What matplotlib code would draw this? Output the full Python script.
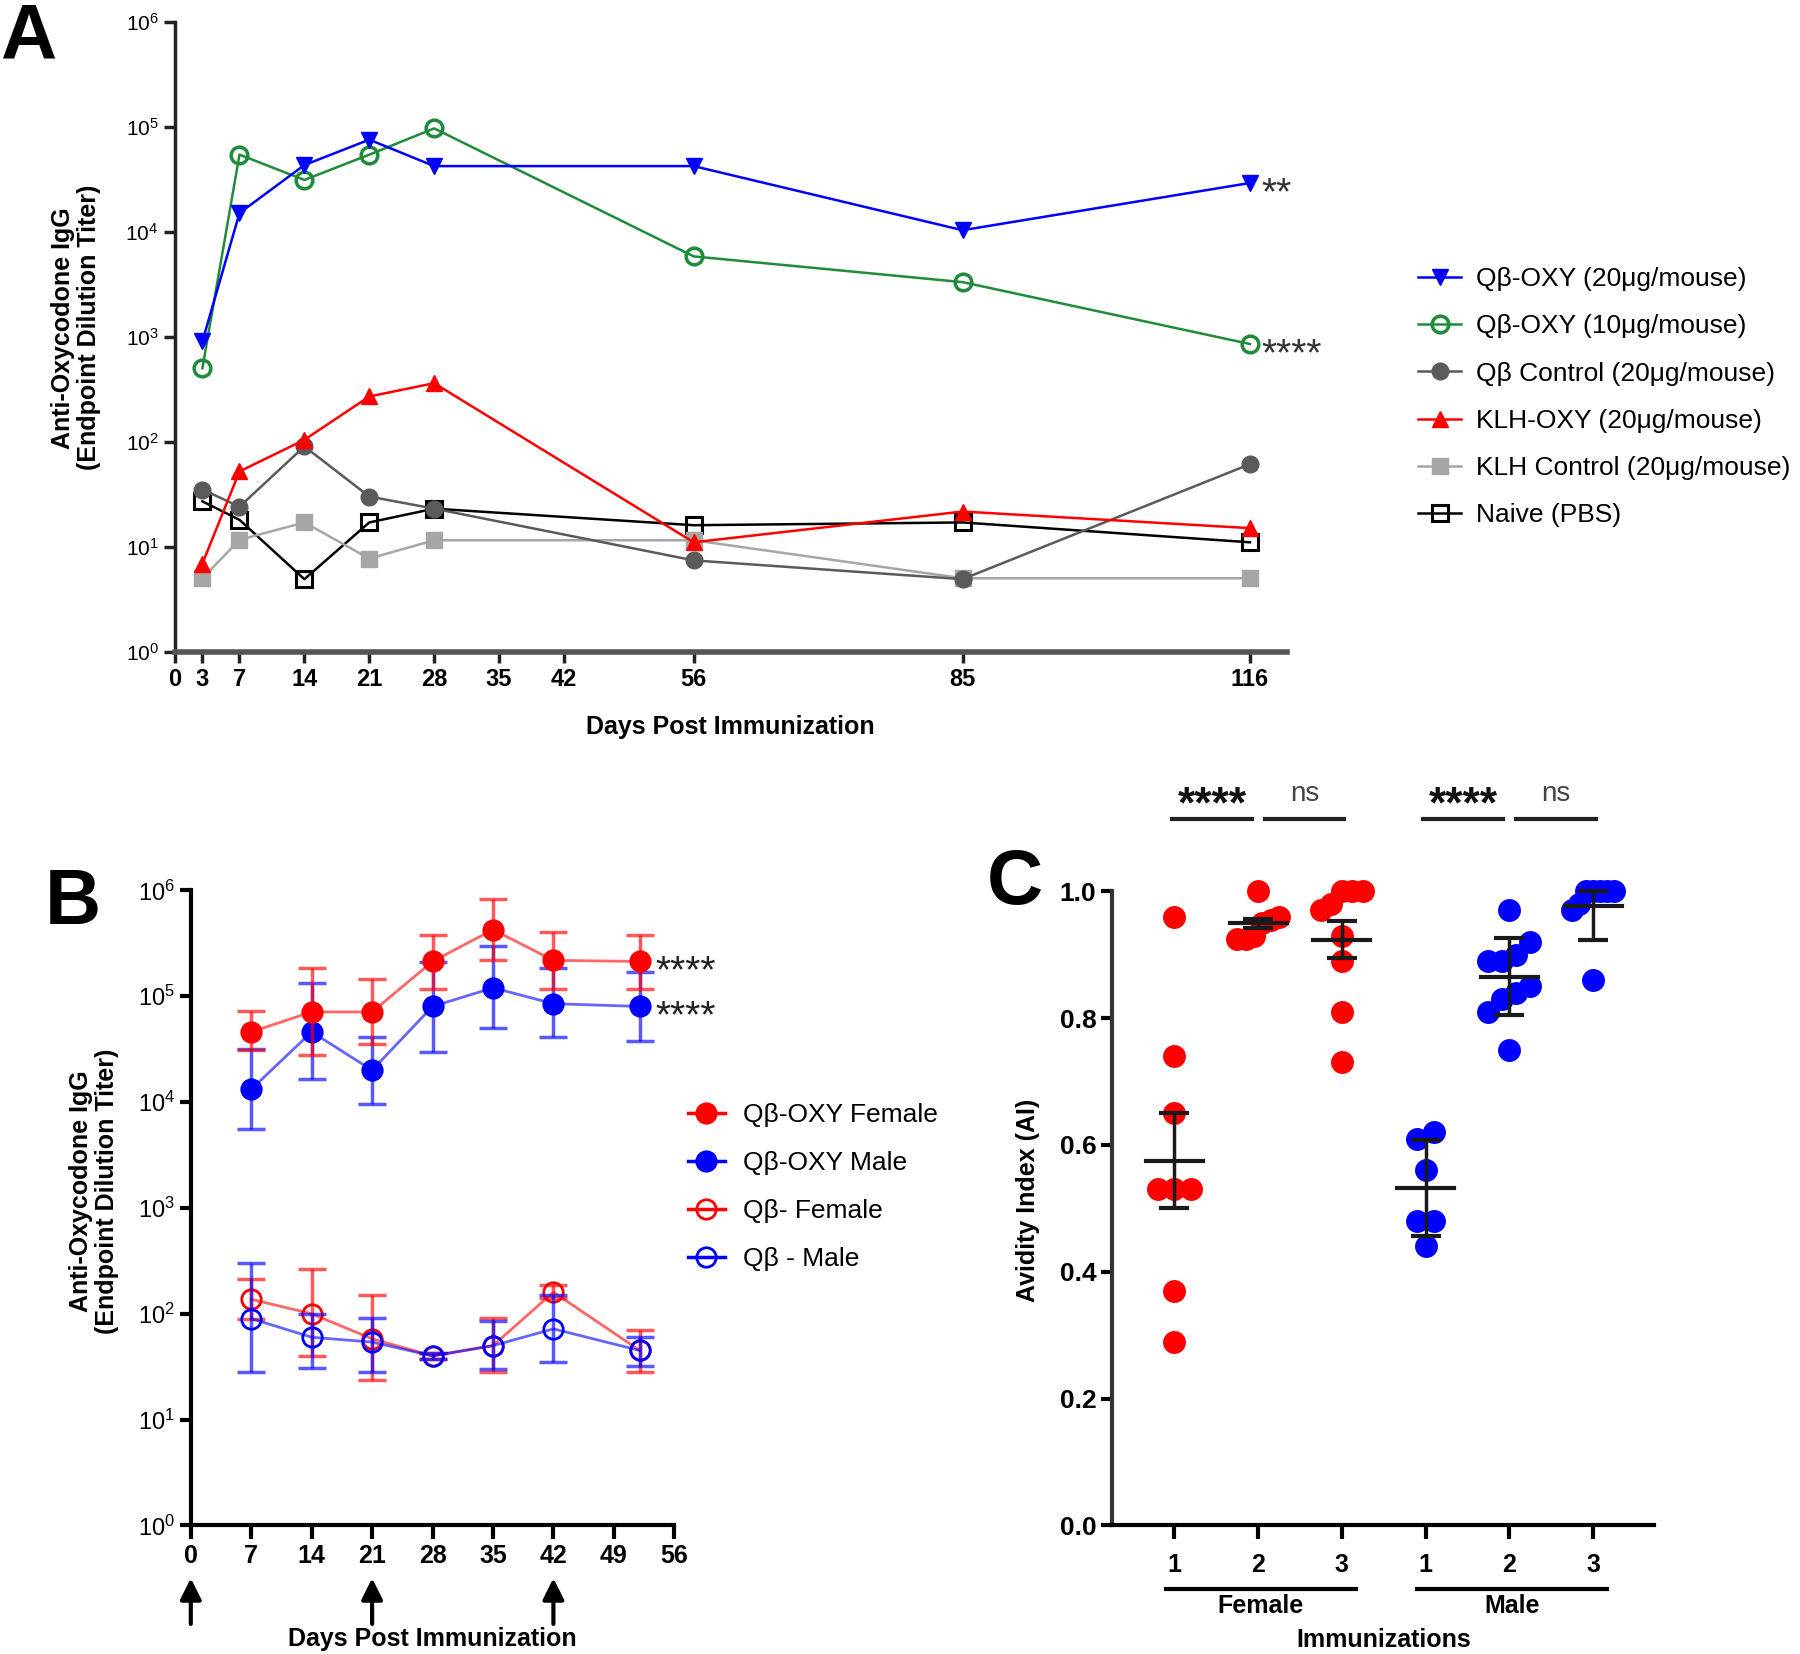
import numpy as np
import matplotlib
matplotlib.use('Agg')
import matplotlib.pyplot as plt
from matplotlib.lines import Line2D

# ---------------- panel A: titers over time, per vaccine ----------------
days_a = [3, 7, 14, 21, 28, 56, 85, 116]
qb_oxy_20 = [900, 15000, 43000, 75000, 42000, 42000, 10300, 29000]
qb_oxy_10 = [500, 54000, 31000, 54000, 96000, 5800, 3300, 850]
qb_ctrl = [35, 24, 90, 30, 23, 7.4, 4.9, 61]
klh_oxy = [6.9, 52, 104, 269, 360, 11, 21.6, 15]
klh_ctrl = [5, 11.6, 17, 7.7, 11.5, 11.5, 5, 5]
naive = [27, 18, 4.9, 17, 23, 16, 17, 11]
ticks_a = [0, 3, 7, 14, 21, 28, 35, 42, 56, 85, 116]

# ---------------- panel B: Qb-OXY by sex (geo mean + range) ----------------
days_b = [7, 14, 21, 28, 35, 42, 52]
f_oxy = [46000, 71000, 71000, 213000, 425000, 218000, 213000]
f_oxy_lo = [31000, 28000, 35000, 116000, 218000, 116000, 116000]
f_oxy_hi = [72000, 185000, 144000, 380000, 830000, 400000, 380000]
m_oxy = [13200, 46000, 20000, 80000, 120000, 85000, 80000]
m_oxy_lo = [5600, 16600, 9600, 30000, 50000, 41500, 38000]
m_oxy_hi = [31600, 132000, 41500, 210000, 300000, 185000, 170000]
f_ctrl = [137, 100, 58, 40, 50, 160, 45]
f_ctrl_lo = [90, 40, 23.5, 37, 28, 140, 28]
f_ctrl_hi = [213, 262, 150, 43, 92, 185, 71]
m_ctrl = [90, 60, 54, 40, 50, 72, 45]
m_ctrl_lo = [28, 31, 28, 37, 30, 35, 32]
m_ctrl_hi = [300, 100, 92, 43, 85, 150, 60]
boost_days = [0, 21, 42]

# ---------------- panel C: avidity index ----------------
c_ticklabels = ['1', '2', '3', '1', '2', '3']
female_1 = [0.96, 0.74, 0.65, 0.53, 0.53, 0.53, 0.37, 0.29]
female_2 = [1.0, 0.96, 0.955, 0.95, 0.93, 0.925, 0.925]
female_3 = [1.0, 1.0, 1.0, 0.98, 0.97, 0.93, 0.89, 0.81, 0.73]
male_1 = [0.62, 0.61, 0.56, 0.48, 0.48, 0.44]
male_2 = [0.97, 0.92, 0.90, 0.89, 0.89, 0.85, 0.84, 0.83, 0.81, 0.75]
male_3 = [1.0, 1.0, 1.0, 1.0, 1.0, 0.98, 0.97, 0.86]
c_err = [0.075, 0.007, 0.029, 0.076, 0.061, 0.054]
sig = [(0, 1, '****'), (1, 2, 'ns'), (3, 4, '****'), (4, 5, 'ns')]

RED = '#FF0000'
BLUE = '#0000FF'
GREEN = '#1E8C3A'
DGRAY = '#5A5A5A'
LGRAY = '#A6A6A6'

plt.rcParams['font.family'] = ['Liberation Sans', 'DejaVu Sans']
NARROW = ['Liberation Sans Narrow', 'Liberation Sans', 'DejaVu Sans']

fig = plt.figure(figsize=(18, 16.54), dpi=100)


def style_axes(ax, lw=2.5, col='#222222'):
    for s in ['top', 'right']:
        ax.spines[s].set_visible(False)
    for s in ['left', 'bottom']:
        ax.spines[s].set_linewidth(lw)
        ax.spines[s].set_color(col)
    ax.tick_params(width=lw, length=8, color=col)
    ax.minorticks_off()


# ======================= A =======================
axA = fig.add_axes([0.097, 0.606, 0.618, 0.381])
axA.set_yscale('log')
axA.set_ylim(1, 1e6)
axA.set_xlim(0, 120)
style_axes(axA)
axA.spines['bottom'].set_linewidth(4)
axA.spines['bottom'].set_color('#555555')

kw = dict(lw=1.8, ms=12, clip_on=False)
hN, = axA.plot(days_a, naive, '-s', color='black', mfc='none', mew=2.2, label='Naive (PBS)', **kw)
hKc, = axA.plot(days_a, klh_ctrl, '-s', color=LGRAY, label='KLH Control (20μg/mouse)', **kw)
hQc, = axA.plot(days_a, qb_ctrl, '-o', color=DGRAY, label='Qβ Control (20μg/mouse)', **kw)
hK, = axA.plot(days_a, klh_oxy, '-^', color=RED, label='KLH-OXY (20μg/mouse)', **kw)
hG, = axA.plot(days_a, qb_oxy_10, '-o', color=GREEN, mfc='none', mew=2.5, label='Qβ-OXY (10μg/mouse)', **kw)
hB, = axA.plot(days_a, qb_oxy_20, '-v', color=BLUE, label='Qβ-OXY (20μg/mouse)', **kw)

axA.set_xticks(ticks_a)
axA.set_xticklabels([str(t) for t in ticks_a], fontsize=17, fontweight='bold', family=NARROW)
axA.set_yticks([1, 10, 100, 1e3, 1e4, 1e5, 1e6])
for lab in axA.get_yticklabels():
    lab.set_fontsize(15)
    lab.set_family(NARROW)
axA.set_xlabel('Days Post Immunization', fontsize=18, fontweight='bold', family=NARROW)
axA.xaxis.set_label_coords(0.5, -0.100)
axA.set_ylabel('Anti-Oxycodone IgG\n(Endpoint Dilution Titer)', fontsize=18, fontweight='bold', linespacing=1.1)
axA.yaxis.set_label_coords(-0.066, 0.514)

axA.annotate('**', xy=(days_a[-1], qb_oxy_20[-1]), xytext=(8, -8), textcoords='offset points',
             fontsize=28, va='center', ha='left', color='#333333')
axA.annotate('****', xy=(days_a[-1], qb_oxy_10[-1]), xytext=(8, -8), textcoords='offset points',
             fontsize=28, va='center', ha='left', color='#333333')

axA.legend([hB, hG, hQc, hK, hKc, hN], [h.get_label() for h in [hB, hG, hQc, hK, hKc, hN]],
           loc='upper left', bbox_to_anchor=(0.788, 0.8385), bbox_transform=fig.transFigure,
           frameon=False, fontsize=19, handlelength=1.6, handletextpad=0.6, labelspacing=0.88,
           borderpad=0, borderaxespad=0)
fig.text(0.0, 0.999, 'A', fontsize=56, fontweight='bold', va='top', ha='left')

# ======================= B =======================
axB = fig.add_axes([0.106, 0.0777, 0.2686, 0.384])
axB.set_yscale('log')
axB.set_ylim(1, 1e6)
axB.set_xlim(0, 56)
style_axes(axB, lw=3, col='black')

series_b = [
    (f_ctrl, f_ctrl_lo, f_ctrl_hi, RED, False, 'Qβ- Female'),
    (m_ctrl, m_ctrl_lo, m_ctrl_hi, BLUE, False, 'Qβ - Male'),
    (m_oxy, m_oxy_lo, m_oxy_hi, BLUE, True, 'Qβ-OXY Male'),
    (f_oxy, f_oxy_lo, f_oxy_hi, RED, True, 'Qβ-OXY Female'),
]
handles_b = {}
for vals, lo, hi, col, filled, lab in series_b:
    v = np.array(vals, float)
    yerr = [v - np.array(lo, float), np.array(hi, float) - v]
    axB.errorbar(days_b, v, yerr=yerr, fmt='none', ecolor=col, elinewidth=2.5,
                 capsize=10, capthick=2.5, alpha=0.65, clip_on=False)
    axB.plot(days_b, v, '-', color=col, lw=2, alpha=0.6, clip_on=False)
    axB.plot(days_b, v, 'o', color=col, ms=14, mfc=col if filled else 'none', mew=2,
             clip_on=False)
    handles_b[lab] = Line2D([], [], color=col, marker='o', ms=14, mfc=col if filled else 'none',
                            mew=2, lw=2.5, alpha=1)

for vals in [f_oxy, m_oxy]:
    axB.annotate('****', xy=(days_b[-1], vals[-1]), xytext=(11, -8), textcoords='offset points',
                 fontsize=28, va='center', ha='left', color='#222222')

axB.set_xticks(range(0, 57, 7))
axB.set_xticklabels([str(t) for t in range(0, 57, 7)], fontsize=18, fontweight='bold', family=NARROW)
axB.set_yticks([1, 10, 100, 1e3, 1e4, 1e5, 1e6])
for lab in axB.get_yticklabels():
    lab.set_fontsize(17)
    lab.set_family(NARROW)
axB.tick_params(axis='x', length=10)
for d in boost_days:
    axB.annotate('', xy=(d, -0.083), xytext=(d, -0.155), xycoords=axB.get_xaxis_transform(),
                 textcoords=axB.get_xaxis_transform(),
                 arrowprops=dict(arrowstyle='-|>', color='black', lw=3, mutation_scale=32,
                                 shrinkA=0, shrinkB=0))
axB.set_xlabel('Days Post Immunization', fontsize=18, fontweight='bold', family=NARROW)
axB.xaxis.set_label_coords(0.5, -0.160)
axB.set_ylabel('Anti-Oxycodone IgG\n(Endpoint Dilution Titer)', fontsize=18, fontweight='bold', linespacing=1.1)
axB.yaxis.set_label_coords(-0.148, 0.526)
order_b = ['Qβ-OXY Female', 'Qβ-OXY Male', 'Qβ- Female', 'Qβ - Male']
axB.legend([handles_b[k] for k in order_b], order_b, loc='upper left',
           bbox_to_anchor=(0.382, 0.333), bbox_transform=fig.transFigure, frameon=False,
           fontsize=19, handlelength=1.4, handletextpad=0.7, labelspacing=0.91,
           borderpad=0, borderaxespad=0)
fig.text(0.025, 0.476, 'B', fontsize=56, fontweight='bold', va='top', ha='left')

# ======================= C =======================
axC = fig.add_axes([0.618, 0.0777, 0.301, 0.3835])
axC.set_xlim(0.26, 6.73)
axC.set_ylim(0, 1.0)
style_axes(axC, lw=3, col='black')
axC.spines['left'].set_color('#333333')

groups_c = [female_1, female_2, female_3, male_1, male_2, male_3]
colors_c = [RED, RED, RED, BLUE, BLUE, BLUE]
pos_c = np.arange(1, len(groups_c) + 1)


def swarm_offsets(vals, thr=0.021, step=0.2, width=0.5):
    vals = np.asarray(vals, float)
    order = np.argsort(vals)
    offs = np.zeros(len(vals))
    clusters = [[order[0]]]
    for i in order[1:]:
        if vals[i] - vals[clusters[-1][-1]] < thr:
            clusters[-1].append(i)
        else:
            clusters.append([i])
    for cl in clusters:
        k = len(cl)
        s = min(step, width / max(k - 1, 1))
        for j, idx in enumerate(cl):
            offs[idx] = (j - (k - 1) / 2) * s
    return offs


for p, vals, col, err in zip(pos_c, groups_c, colors_c, c_err):
    offs = swarm_offsets(vals)
    axC.plot(p + offs, vals, 'o', color=col, ms=16.5, mew=0, clip_on=False, zorder=3)
    m = np.mean(vals)
    up = min(m + err, 1.0) - m
    axC.plot([p - 0.34, p + 0.34], [m, m], color='#1a1a1a', lw=3, zorder=4, clip_on=False)
    axC.errorbar([p], [m], yerr=[[err], [up]], fmt='none', ecolor='#1a1a1a', elinewidth=2.5,
                 capsize=11, capthick=3, zorder=4, clip_on=False)

axC.set_xticks(pos_c)
axC.set_xticklabels(c_ticklabels, fontsize=18, fontweight='bold', family=NARROW)
axC.tick_params(axis='x', length=10, pad=10)
axC.set_yticks(np.arange(0, 1.01, 0.2))
axC.set_yticklabels(['%.1f' % t for t in np.arange(0, 1.01, 0.2)], fontsize=19,
                    fontweight='bold', family=NARROW)
axC.set_ylabel('Avidity Index (AI)', fontsize=18, fontweight='bold')
axC.yaxis.set_label_coords(-0.133, 0.513)

tr = axC.get_xaxis_transform()
for name, (a, b) in [('Female', (0, 2)), ('Male', (3, 5))]:
    axC.plot([pos_c[a] - 0.1, pos_c[b] + 0.17], [-0.10, -0.10], color='black', lw=3,
             transform=tr, clip_on=False)
    axC.text((pos_c[a] + pos_c[b]) / 2 + 0.03, -0.127, name, transform=tr, ha='center',
             va='center', fontsize=18, fontweight='bold', family=NARROW)
axC.text(0.5, -0.18, 'Immunizations', transform=axC.transAxes, ha='center', va='center',
         fontsize=18, fontweight='bold', family=NARROW)

for a, b, txt in sig:
    if txt == 'ns':
        x0, x1 = pos_c[a] + 0.08, pos_c[b] + 0.03
    else:
        x0, x1 = pos_c[a] - 0.03, pos_c[b] - 0.07
    axC.plot([x0, x1], [1.114, 1.114], color='#222222', lw=3, clip_on=False)
    if txt == 'ns':
        axC.text((x0 + x1) / 2, 1.153, txt, ha='center', va='center', fontsize=20,
                 color='#444444', clip_on=False)
    else:
        axC.text((x0 + x1) / 2, 1.135, txt, ha='center', va='center', fontsize=32,
                 fontweight='bold', color='#111111', clip_on=False)
fig.text(0.548, 0.488, 'C', fontsize=56, fontweight='bold', va='top', ha='left')

fig.savefig('out.png', dpi=100)
